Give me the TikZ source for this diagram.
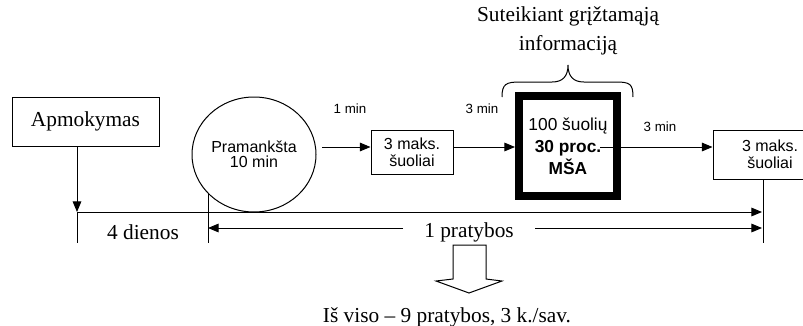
\documentclass[tikz,border=0pt]{standalone}
\usepackage{fontspec}
\setmainfont{Liberation Serif}
\newfontfamily\arialf{Liberation Sans}
\usetikzlibrary{arrows.meta,shapes.geometric}
\begin{document}
\begin{tikzpicture}[x=0.75pt,y=-0.75pt,
  ln/.style={line width=0.75pt},
  arr/.style={ln,-{Triangle[length=8pt,width=6.5pt]}},
  tbox/.style={draw,ln,inner sep=0pt,font=\fontsize{16}{19}\selectfont},
  abox/.style={draw,ln,inner sep=0pt,align=center,font=\arialf\fontsize{12}{13}\selectfont},
  tlab/.style={inner sep=0pt,font=\fontsize{16}{19}\selectfont},
  slab/.style={inner sep=0pt,font=\arialf\fontsize{10}{12}\selectfont}]
\useasboundingbox (0,0) rectangle (803,325);
\clip (0,0) rectangle (803,325);
% nodes
\node[tbox,minimum width=110.25pt,minimum height=36.75pt] (apm) at (85.5,121.5) {Apmokymas};
\node[draw,ln,ellipse,inner sep=0pt,minimum width=93pt,minimum height=86.25pt,align=center,
      font=\arialf\fontsize{12}{11.5}\selectfont] (ell) at (254,154.5) {Pramankšta\\10 min};
\node[abox,minimum width=61.5pt,minimum height=33pt] (b1) at (412,152) {3 maks.\\šuoliai};
\node[draw,line width=6pt,inner sep=0pt,minimum width=73.5pt,minimum height=75pt,align=center,
      font=\arialf\fontsize{13}{16.5}\selectfont] (tb) at (568,146) {100 šuolių\\\textbf{30 proc.}\\\textbf{MŠA}};
\node[abox,minimum width=85.5pt,minimum height=36.75pt] (b2) at (770,154.5) {3 maks.\\šuoliai};
% labels
\node[slab] (m1) at (350,109) {1 min};
\node[slab] (m2) at (482,109) {3 min};
\node[slab] (m3) at (660,127) {3 min};
\node[tlab,align=center,font=\fontsize{16}{22}\selectfont] (title) at (568,31) {Suteikiant grįžtamąją\\informaciją};
\node[tlab] (d4) at (143,232) {4 dienos};
\node[tlab] (p1) at (469,232) {1 pratybos};
\node[tlab] (tot) at (447,317) {Iš viso – 9 pratybos, 3 k./sav.};
% coordinates
\coordinate (a1) at (77,212);
\coordinate (a2) at (77,243);
\coordinate (r1) at (762,212);
\coordinate (r2) at (763,243);
\coordinate (r3) at (762,228);
\coordinate (q1) at (208,193);
\coordinate (q2) at (208,243);
\coordinate (q3) at (208,228);
\coordinate (l1) at (403,228);
\coordinate (l2) at (535,228);
\coordinate (c1) at (322,147);
\coordinate (c2) at (600,147);
% connectors
\draw[arr] (a1 |- apm.south) -- (a1);
\draw[ln] (a1) -- (a2);
\draw[arr] (a1) -- (r1);
\draw[ln] (r2 |- b2.south) -- (r2);
\draw[ln] (q1) -- (q2);
\draw[arr] (l1) -- (q3);
\draw[arr] (l2) -- (r3);
\draw[arr] (c1) -- (c1 -| b1.west);
\draw[arr] (b1.east |- c1) -- (tb.west |- c1);
\draw[arr] (c2) -- (b2.west |- c2);
% brace
\draw[ln] (502,97) .. controls (502,84) and (506,82) .. (520,82) -- (552,82)
  .. controls (563,82) and (568,76) .. (568,65)
  .. controls (568,76) and (573,82) .. (584,82) -- (616,82)
  .. controls (630,82) and (633,84) .. (633,97);
% block arrow
\draw[ln] (453,245) -- (453,279) -- (436,281) -- (469,293) -- (502,281) -- (486,279) -- (486,245) -- cycle;
\end{tikzpicture}
\end{document}
